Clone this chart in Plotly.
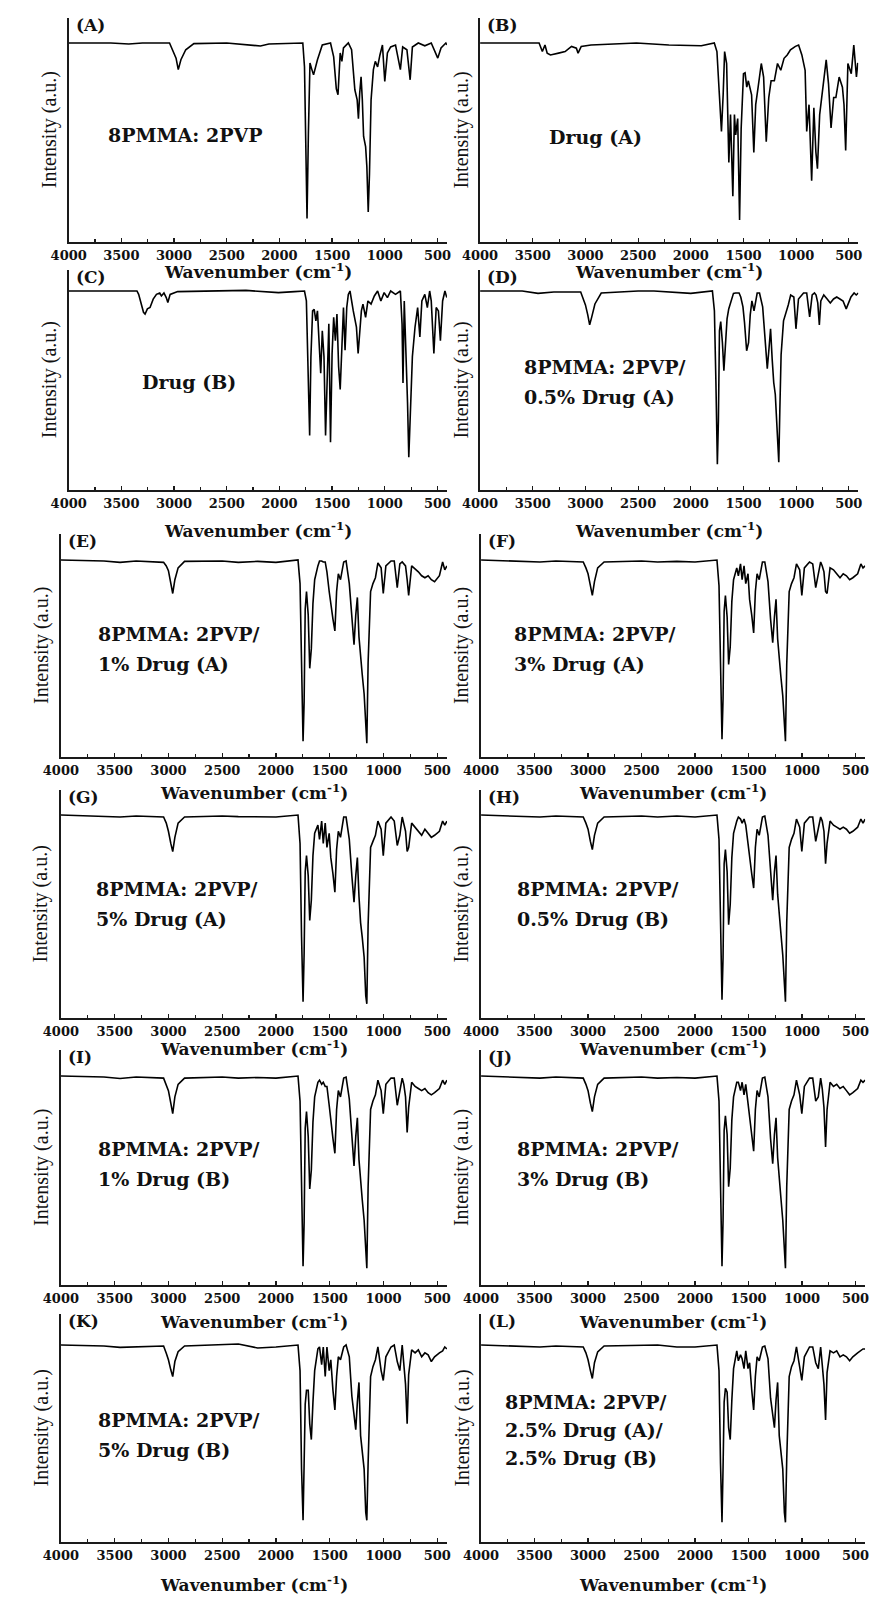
import plotly.graph_objects as go

# ---------------- data ----------------
# Intensity values are relative: 100 = flat baseline level, 0 = x-axis level.
W_A = [4000, 3600, 3430, 3300, 3043, 3003, 2981, 2960, 2935, 2889, 2812, 2500, 2180, 2100, 1800,
       1778, 1762, 1747, 1738, 1725, 1710, 1694, 1676, 1639, 1593, 1515, 1485, 1460, 1444, 1423,
       1407, 1392, 1346, 1315, 1284, 1262, 1250, 1238, 1225, 1213, 1201, 1182, 1170, 1157, 1145,
       1130, 1108, 1090, 1068, 1046, 1022, 1000, 975, 944, 898, 852, 830, 790, 759, 738,
       682, 620, 559, 497, 466, 420, 410]
V_A = [100, 100, 99.5, 100, 100, 95, 92.4, 86.6, 91.6, 96.6, 99.7, 100, 98.5, 99.5, 100,
       100, 88, 29, 11.8, 54.6, 90, 87, 84, 91.6, 99, 100, 93, 77, 74, 95,
       90.8, 97.5, 100, 96.6, 76.5, 71.4, 62, 74.8, 83, 71.4, 53, 48, 37.8, 15.1, 34.5,
       71.4, 86.6, 90.8, 88, 94, 99, 80.7, 95, 98, 99, 86.6, 98, 96.6, 81.5, 98,
       100, 98.6, 100, 92.4, 97.5, 100, 99]

W_B = [4000, 3440, 3409, 3384, 3363, 3332, 3255, 3193, 3132, 3086, 3070, 3040, 2947, 2516, 2208,
       1900, 1777, 1752, 1731, 1709, 1693, 1679, 1660, 1639, 1623, 1614, 1601, 1586, 1574, 1555,
       1537, 1522, 1500, 1485, 1469, 1454, 1423, 1402, 1384, 1361, 1331, 1309, 1284, 1260, 1238,
       1207, 1177, 1146, 1115, 1085, 1054, 1007, 977, 946, 915, 900, 878, 853, 832, 813,
       798, 777, 746, 715, 693, 669, 644, 623, 592, 561, 546, 530, 509, 477, 453, 428, 415]
V_B = [100, 100, 95.7, 99, 94.9, 94, 94.9, 95.7, 98.3, 97.4, 94.9, 98.3, 99, 100, 99,
       98.6, 100, 95.7, 76, 55.6, 74, 95.7, 89.7, 40, 64, 48.7, 23, 64, 53.8, 62,
       11, 57, 84.6, 85, 77.8, 81, 74, 45, 69, 77.8, 89.7, 82.9, 50.4, 72.6, 81,
       81, 89.7, 86.3, 92.3, 94, 96.6, 98.3, 99, 94, 86.3, 55.6, 69, 30.8, 67.5, 45.3,
       36.8, 64, 79.5, 91.5, 79.5, 57.3, 72.6, 72.6, 82.9, 77.8, 69, 46, 89.7, 84.6, 99, 82.9, 90]

W_C = [4000, 3352, 3336, 3312, 3290, 3275, 3253, 3228, 3198, 3167, 3136, 3120, 3096, 3074, 3059,
       3037, 2966, 2318, 2009, 1855, 1762, 1744, 1725, 1713, 1701, 1685, 1670, 1654, 1639, 1623,
       1608, 1593, 1577, 1562, 1546, 1531, 1515, 1500, 1485, 1469, 1454, 1438, 1423, 1407, 1392,
       1377, 1361, 1346, 1330, 1299, 1269, 1253, 1238, 1222, 1207, 1182, 1160, 1130, 1099, 1068,
       1037, 1006, 975, 944, 898, 852, 836, 827, 815, 799, 784, 772, 759, 738, 713,
       688, 667, 648, 620, 596, 574, 559, 534, 512, 491, 472, 451, 429, 411]
V_C = [100, 100, 98.3, 93.4, 89.3, 88.4, 91, 91.7, 95.9, 98.3, 99, 97.5, 99, 96.7, 94.2,
       98.3, 99.7, 100.3, 99.2, 99.7, 100, 95, 55.4, 27.4, 67, 90, 90.8, 85, 90, 75,
       58.7, 80, 67, 27.4, 63.7, 83.5, 24, 68.6, 86.8, 75, 88.4, 62, 50.5, 75, 91.7,
       70.3, 91.7, 98.3, 100, 90, 81.8, 68.6, 78.5, 90, 93.4, 86.8, 95, 93.4, 97.5, 100,
       95, 99.2, 96.7, 100, 98.3, 100, 83.5, 53.8, 95, 70.3, 43.9, 16.5, 38.9, 67, 81.8,
       91.7, 76.9, 95, 98.3, 91.7, 100, 95, 68.6, 91.7, 90, 75, 95, 100, 96.7]

# common wavenumber grid for the polymer-blend spectra (D - L)
W_BLEND = [4000, 3600, 3450, 3300, 3045, 3020, 3000, 2978, 2960, 2940,
           2910, 2850, 2500, 2350, 2170, 2000, 1795, 1776, 1762, 1748,
           1738, 1728, 1716, 1700, 1686, 1671, 1656, 1640, 1610, 1595,
           1575, 1560, 1542, 1526, 1505, 1490, 1470, 1452, 1436, 1420,
           1400, 1370, 1348, 1318, 1294, 1274, 1258, 1243, 1228, 1213,
           1198, 1180, 1165, 1155, 1143, 1120, 1098, 1075, 1052, 1022,
           1002, 978, 930, 900, 872, 848, 826, 811, 795, 780,
           766, 738, 706, 676, 645, 615, 585, 555, 525, 480,
           450, 430, 410]
V_D = [100, 100, 98.8, 99.5, 99.5, 96, 93, 88, 83, 87,
       93.5, 99, 100, 100, 99.5, 98.8, 100, 90, 55, 13,
       35, 80, 84.6, 74, 60, 72, 86, 91, 96.5, 98.8,
       99, 99, 99, 97, 92, 84, 70, 74, 88, 95,
       90, 99, 99, 92, 75, 61, 71, 81, 66, 54,
       48, 32, 14, 40, 68, 85, 88.5, 93, 98, 97,
       81, 96, 99, 99, 87, 98, 99, 98, 94, 83,
       95, 98, 96, 94, 96, 97, 96, 95, 91, 97,
       99, 98, 99]
V_E = [100, 99.5, 98.8, 99.5, 98.8, 97, 94.6, 87.8, 83, 90,
       96, 99.3, 99.5, 98.8, 99.3, 98.8, 100, 88, 45, 8,
       28, 75, 84, 72, 45, 55, 78, 90, 97, 99.5,
       99.5, 99, 99, 94, 84, 77, 70, 64, 84, 93,
       90, 99, 99.5, 88, 68, 57, 72, 81, 61, 49,
       42, 32, 12, 7, 48, 84, 88, 91, 98.5, 96,
       83, 97, 99.5, 99.5, 86, 98, 99, 98, 97, 90,
       82, 97, 95.5, 94, 92, 91, 92, 90, 89, 92,
       99, 95, 97]
V_F = [100, 99.5, 99, 99.5, 99, 96, 93, 87, 82, 89,
       96, 99, 99.5, 99, 99.3, 99, 100, 87, 42, 9,
       30, 74, 82, 71, 47, 56, 79, 90, 96, 92,
       98, 90, 97, 88, 93, 80, 72, 63, 84, 93,
       90, 99, 99, 89, 70, 58, 71, 80, 60, 48,
       41, 31, 12, 8, 47, 84, 88, 91, 98, 95,
       82, 96, 99, 98, 86, 92, 99, 97, 94, 84,
       83, 96, 95, 93, 91, 93, 92, 90, 91, 93,
       98, 96, 97]
V_G = [100, 99.5, 99, 99.5, 99, 96, 92, 86, 82, 89,
       96, 99, 99.5, 99.2, 99, 99, 100, 86, 40, 8,
       32, 72, 80, 70, 48, 58, 80, 91, 95, 88,
       97, 86, 96, 84, 91, 79, 71, 62, 83, 92,
       89, 99, 99, 88, 70, 57, 70, 79, 60, 47,
       40, 30, 11, 7, 46, 84, 87, 90, 97, 93,
       80, 96, 99, 97, 85, 90, 99, 96, 92, 82,
       84, 96, 94, 92, 90, 93, 91, 89, 90, 92,
       97, 95, 97]
V_H = [100, 99.5, 99, 99.5, 99, 96, 93, 87, 83, 90,
       96, 99, 99.5, 99, 99.5, 99, 100, 88, 44, 9,
       30, 76, 83, 72, 46, 56, 79, 91, 97, 99,
       98, 96, 98, 95, 86, 78, 71, 64, 84, 93,
       90, 99, 99.5, 90, 70, 58, 72, 80, 61, 49,
       42, 31, 12, 8, 47, 84, 88, 91, 98, 94,
       82, 96, 99, 99, 87, 94, 99, 97, 92, 76,
       86, 97, 95, 94, 93, 94, 93, 91, 92, 94,
       98, 96, 98]
V_I = [100, 99.5, 98.8, 99.5, 99, 96, 93, 87, 82, 90,
       96, 99, 99.5, 99, 99.3, 99, 100, 88, 43, 9,
       30, 75, 83, 71, 46, 55, 78, 90, 97, 98,
       96, 97, 95, 95, 86, 78, 70, 63, 84, 93,
       90, 99, 99.5, 89, 69, 57, 71, 80, 60, 48,
       41, 31, 12, 8, 47, 84, 88, 91, 98, 93,
       82, 96, 99, 99, 86, 92, 99, 96, 90, 73,
       85, 97, 95, 94, 93, 94, 92, 91, 92, 94,
       98, 96, 98]
V_J = [100, 99.5, 99, 99.5, 99, 96, 93, 87, 83, 90,
       96, 99, 99.5, 99, 99.3, 99, 100, 88, 42, 9,
       31, 74, 81, 72, 47, 56, 79, 90, 97, 97,
       93, 97, 91, 96, 87, 80, 72, 64, 84, 93,
       90, 99, 99.5, 90, 70, 58, 72, 80, 61, 49,
       42, 31, 12, 8, 47, 84, 88, 91, 98, 91,
       82, 95, 99, 99, 88, 90, 99, 94, 85, 66,
       84, 97, 95, 96, 94, 95, 93, 91, 92, 94,
       98, 97, 98]
V_K = [100, 99.5, 98.8, 99, 99.5, 95.8, 92.5, 87.4, 84, 91.6,
       96.6, 99.5, 100, 100.5, 98.5, 99, 100, 87, 37, 11,
       40, 70, 77, 77, 60, 52, 71, 87, 98, 99,
       90, 99, 84, 99, 87, 92.5, 77, 67, 84, 94,
       92.5, 99, 100, 94, 74, 64, 57, 71, 81, 54,
       47, 37, 15, 11, 40, 84, 89, 92.5, 99, 87,
       82, 94, 99, 100, 91.6, 87, 100, 89, 80, 60,
       85, 97.5, 96, 97.5, 94, 96, 95, 91.6, 94, 96,
       97, 99, 98]
V_L = [100, 99.5, 99, 99.5, 99, 96, 92.5, 87, 83, 91,
       96.5, 99.5, 100, 100, 99, 99, 100, 87, 40, 10,
       38, 71, 78, 76, 58, 52, 72, 88, 97, 92,
       95, 93, 88, 97, 88, 91, 77, 67, 84, 94,
       92, 99, 99.5, 93, 73, 63, 58, 72, 81, 54,
       47, 37, 15, 10, 42, 84, 89, 92, 99, 89,
       82, 94, 99, 99, 91, 88, 99, 90, 80, 62,
       86, 97, 96, 97, 94, 95, 94, 92, 94, 96,
       97, 98, 98]

PANEL_LABELS = ["(A)", "(B)", "(C)", "(D)", "(E)", "(F)", "(G)", "(H)", "(I)", "(J)", "(K)", "(L)"]
SAMPLE_TEXT = [
    ["8PMMA: 2PVP"],
    ["Drug (A)"],
    ["Drug (B)"],
    ["8PMMA: 2PVP/", "0.5% Drug (A)"],
    ["8PMMA: 2PVP/", "1% Drug (A)"],
    ["8PMMA: 2PVP/", "3% Drug (A)"],
    ["8PMMA: 2PVP/", "5% Drug (A)"],
    ["8PMMA: 2PVP/", "0.5% Drug (B)"],
    ["8PMMA: 2PVP/", "1% Drug (B)"],
    ["8PMMA: 2PVP/", "3% Drug (B)"],
    ["8PMMA: 2PVP/", "5% Drug (B)"],
    ["8PMMA: 2PVP/", "2.5% Drug (A)/", "2.5% Drug (B)"],
]
SPECTRA = [(W_A, V_A), (W_B, V_B), (W_C, V_C), (W_BLEND, V_D), (W_BLEND, V_E), (W_BLEND, V_F),
           (W_BLEND, V_G), (W_BLEND, V_H), (W_BLEND, V_I), (W_BLEND, V_J), (W_BLEND, V_K), (W_BLEND, V_L)]
TICK_VALUES = [4000, 3500, 3000, 2500, 2000, 1500, 1000, 500]
X_TITLE = "Wavenumber (cm<sup>-1</sup>)"
Y_TITLE = "Intensity (a.u.)"

# ---------------- layout geometry (pixels) ----------------
FIG_W, FIG_H = 875, 1600
# (axis top, baseline level, x-axis level)
ROWS = [(18, 43, 242), (270, 291, 490), (534, 560, 757),
        (790, 815, 1018), (1050, 1076, 1285), (1314, 1345, 1542)]
TITLE_Y = [271, 530, 792, 1048, 1321, 1584]
# x extents of each panel (left axis, right end)
XPX = [(52, 440), (474, 862), (52, 440), (474, 862), (44, 440), (475, 869),
       (44, 440), (475, 869), (44, 440), (475, 869), (44, 440), (475, 869)]
TEXT_POS = [(90, [135]), (543, [137]), (125, [382]), (517, [367, 397]),
            (80, [634, 664]), (507, [634, 664]), (78, [889, 919]), (510, [889, 919]),
            (80, [1149, 1179]), (510, [1149, 1179]), (80, [1420, 1450]), (497, [1402, 1430, 1458])]

SERIF_B = "DejaVu Serif"
px = lambda v: v / FIG_W
py = lambda v: 1 - v / FIG_H

fig = go.Figure()
annotations = []
layout = {}
for i in range(12):
    k = i + 1
    row = i // 2
    top, base, axis = ROWS[row]
    x0, x1 = XPX[i]
    w, v = SPECTRA[i]
    xa = "x" if k == 1 else f"x{k}"
    ya = "y" if k == 1 else f"y{k}"
    fig.add_trace(go.Scatter(x=w, y=v, mode="lines", line=dict(color="#000000", width=1.6),
                             xaxis=xa, yaxis=ya, showlegend=False, hoverinfo="skip"))
    ymax = 100 * (axis - top) / (axis - base)
    layout["xaxis" if k == 1 else f"xaxis{k}"] = dict(
        domain=[px(x0), px(x1)], anchor=ya, range=[4000, 410],
        showline=True, linecolor="#1a1a1a", linewidth=2, mirror=False,
        showgrid=False, zeroline=False,
        tickmode="array", tickvals=TICK_VALUES, ticks="inside", ticklen=4, tickwidth=1.2,
        tickcolor="#1a1a1a",
        minor=dict(tickmode="linear", tick0=0, dtick=250, ticks="inside", ticklen=3, tickcolor="#1a1a1a"),
        tickfont=dict(family=SERIF_B, size=13, color="#111111", weight="bold"),
        ticklabelstandoff=0, fixedrange=True)
    layout["yaxis" if k == 1 else f"yaxis{k}"] = dict(
        domain=[py(axis), py(top)], anchor=xa, range=[0, ymax],
        showline=True, linecolor="#1a1a1a", linewidth=2, showgrid=False, zeroline=False,
        ticks="", showticklabels=False, fixedrange=True)
    # panel label
    annotations.append(dict(xref="paper", yref="paper", x=px(x0 + 5), y=py(top + 7),
                            xanchor="left", yanchor="middle", showarrow=False,
                            text="<b>" + PANEL_LABELS[i] + "</b>",
                            font=dict(family=SERIF_B, size=17, color="#111111")))
    # sample text
    tx, tys = TEXT_POS[i]
    for line, ty in zip(SAMPLE_TEXT[i], tys):
        annotations.append(dict(xref="paper", yref="paper", x=px(tx), y=py(ty),
                                xanchor="left", yanchor="middle", showarrow=False,
                                text="<b>" + line + "</b>",
                                font=dict(family=SERIF_B, size=19, color="#111111")))
    # y title
    annotations.append(dict(xref="paper", yref="paper", x=px(x0 - 20), y=py((top + axis) / 2),
                            xanchor="center", yanchor="middle", showarrow=False, textangle=-90,
                            text=Y_TITLE,
                            font=dict(family="Liberation Serif", size=20, color="#111111")))
    # x title
    annotations.append(dict(xref="paper", yref="paper", x=px((x0 + x1) / 2), y=py(TITLE_Y[row]),
                            xanchor="center", yanchor="middle", showarrow=False,
                            text="<b>" + X_TITLE + "</b>",
                            font=dict(family=SERIF_B, size=17, color="#111111")))

fig.update_layout(width=FIG_W, height=FIG_H, margin=dict(l=0, r=0, t=0, b=0),
                  paper_bgcolor="white", plot_bgcolor="white",
                  annotations=annotations, **layout)
fig.write_html("out.html", config={"displayModeBar": False, "staticPlot": True},
               post_script="document.body.style.margin='0px';document.body.style.overflow='hidden';")
